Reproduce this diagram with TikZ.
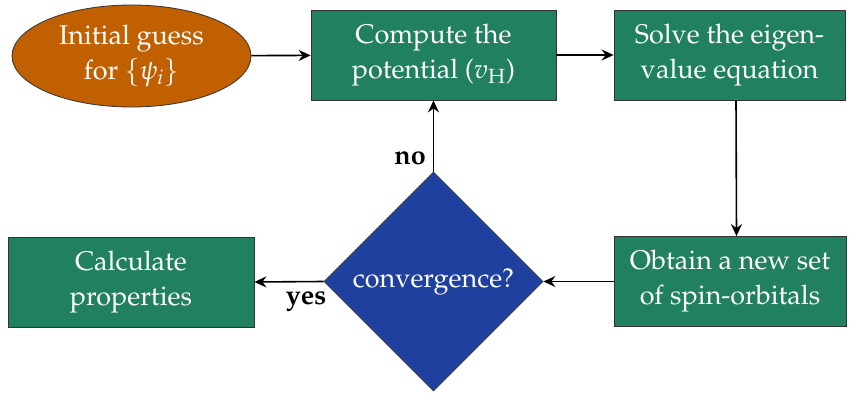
\documentclass[tikz,border=0pt]{standalone}
\usepackage[T1]{fontenc}
\usepackage{mathpazo}
\usetikzlibrary{shapes.geometric,arrows.meta}
\definecolor{boxgreen}{RGB}{33,128,95}
\definecolor{ellorange}{RGB}{192,96,0}
\definecolor{diablue}{RGB}{32,64,160}
\tikzset{
  base/.style={draw=black!80, line width=0.4pt, text=white, align=center, font=\fontsize{13.5}{17.5}\selectfont},
  box/.style={base, rectangle, fill=boxgreen, minimum height=45pt, inner sep=2pt},
  startell/.style={base, ellipse, fill=ellorange, minimum width=119.5pt, minimum height=51pt, inner sep=0pt},
  decision/.style={base, diamond, fill=diablue, minimum width=109.5pt, minimum height=109.5pt, inner sep=0pt},
  conn/.style={line width=0.8pt, -{Stealth[length=6pt,width=5.5pt,inset=2pt]}},
  lbl/.style={font=\fontsize{13.5}{17}\selectfont\bfseries}
}
\begin{document}
\begin{tikzpicture}[x=0.5pt,y=-0.5pt]
\useasboundingbox (0,0) rectangle (850,395);
\node[startell] (init) at (131.5,56) {Initial guess\\for $\{\psi_i\}$};
\node[box, minimum width=122.5pt] (comp) at (433.5,55) {Compute the\\potential ($v_{\mathrm{H}}$)};
\node[box, minimum width=115.5pt] (solve) at (729.5,55) {Solve the eigen-\\value equation};
\node[box, minimum width=116pt] (obt) at (730,281.5) {Obtain a new set\\of spin-orbitals};
\node[box, minimum width=123pt] (calc) at (131,282) {Calculate\\properties};
\node[decision] (conv) at (433.5,281.5) {convergence?};
\draw[conn] (init) -- (comp);
\draw[conn] (comp) -- (solve);
\draw[conn] ([xshift=3.25pt]solve.south) -- ([xshift=3.25pt]obt.north);
\draw[conn] (obt) -- (conv);
\draw[conn] (conv.west) -- (calc.east);
\draw[conn] (conv.north) -- (comp.south);
\node[lbl] (no) at (410,158) {no};
\node[lbl] (yes) at (306,301) {yes};
\end{tikzpicture}
\end{document}
